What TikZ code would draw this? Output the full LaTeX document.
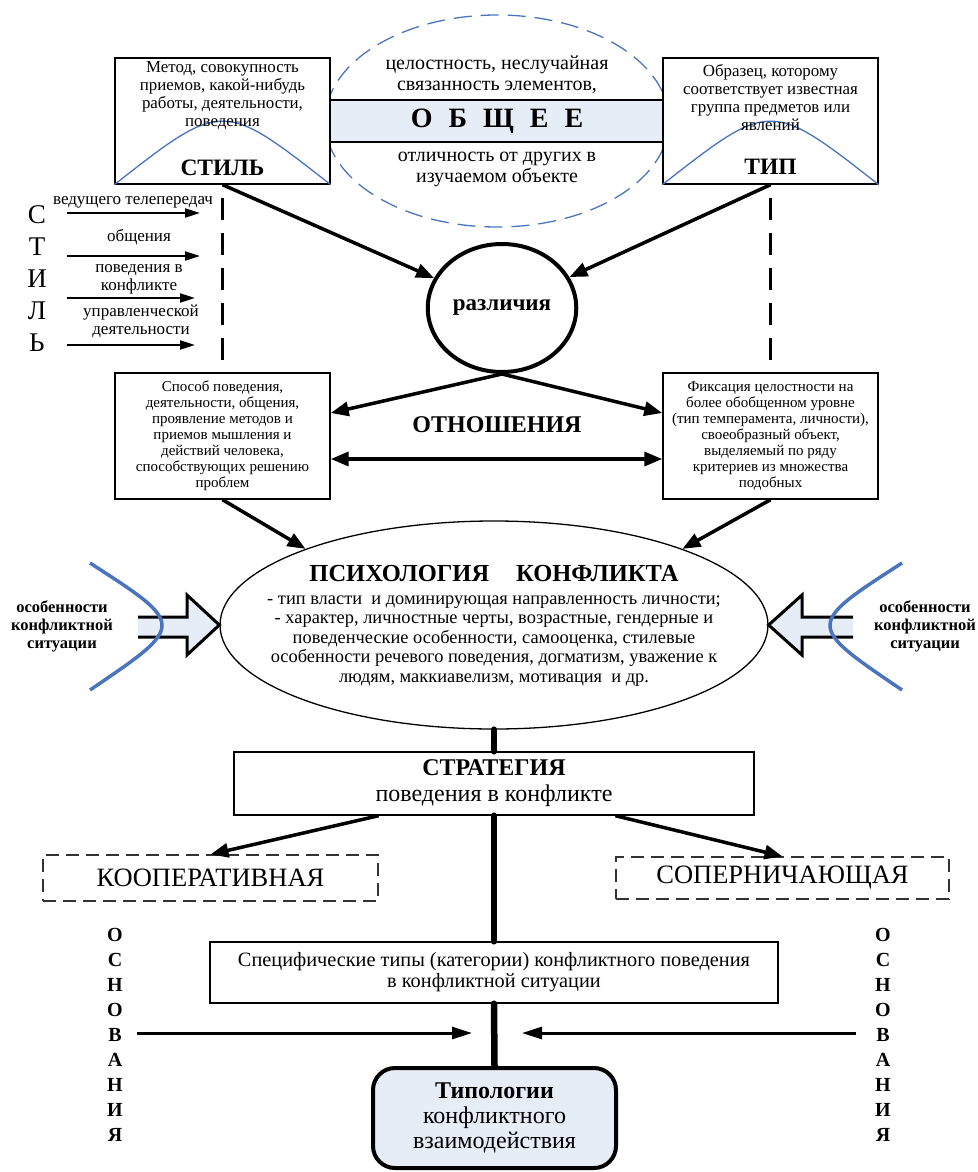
\documentclass[tikz,border=0pt]{standalone}
\usepackage{fontspec}
\setmainfont{Liberation Serif}
\usetikzlibrary{arrows.meta,shapes.geometric}
\definecolor{paleblue}{HTML}{E7EDF7}
\definecolor{lineblue}{HTML}{4A75BE}
\newcommand{\fsz}[2]{\fontsize{#1}{#2}\selectfont}
\tikzset{
  box/.style={draw, line width=1.4pt, fill=white, align=center, inner sep=2pt},
  dashbox/.style={draw=black!80, line width=1.2pt, dash pattern=on 13pt off 7pt, align=center},
  conn/.style={line width=3.5pt, -{Triangle[length=18pt,width=14pt]}},
  baseconn/.style={line width=3pt, -{Triangle[length=20pt,width=12pt]}},
  thinconn/.style={line width=2pt, -{Triangle[length=15pt,width=9pt]}},
  spine/.style={line width=6.5pt, line cap=round},
  vdash/.style={line width=2.5pt, dash pattern=on 22pt off 13pt, dash phase=22pt},
  bluearc/.style={draw=lineblue, line width=1.3pt},
  sidearc/.style={draw=lineblue, line width=3.5pt},
  blockarr/.style={draw, fill=paleblue, line width=3pt, line join=miter},
}

\begin{document}
\begin{tikzpicture}[x=1pt,y=-1pt]
		%%%%% START %%%%%
		\useasboundingbox (0,0) rectangle (977,1172);
		
		% common part between style and type
		\draw[lineblue, line width=1.3pt, dash pattern=on 18pt off 9pt] (497,121) ellipse [x radius=172, y radius=106];
		\node[draw, line width=1.4pt, fill=paleblue, minimum width=333pt, minimum height=42pt, font=\fsz{28}{30}\bfseries] (obshee) at (497,121) {О\hspace{16pt}Б\hspace{16pt}Щ\hspace{16pt}Е\hspace{16pt}Е};
		\node[font=\fsz{20}{21}, align=center] (cel) at (497,75) {целостность, неслучайная\\связанность элементов,};
		\node[font=\fsz{20}{21}, align=center] (otl) at (497,169) {отличность от других в\\изучаемом объекте};
		
		\node[box, minimum width=215pt, minimum height=126pt] (stil) at (222.5,121) {};
		\draw[bluearc] (stil.south west) .. controls (222.5,100) .. (stil.south east);
		\node[font=\fsz{16.9}{18}, align=center] (stiltxt) at (222.5,96) {Метод, совокупность\\приемов, какой-нибудь\\работы, деятельности,\\поведения};
		\node[font=\fsz{23.5}{24}\bfseries] (stillab) at (222.5,168) {СТИЛЬ};
		
		\node[box, minimum width=215pt, minimum height=126pt] (tip) at (770.5,121) {};
		\draw[bluearc] (tip.south west) .. controls (770.5,100) .. (tip.south east);
		\node[font=\fsz{16.9}{18}, align=center] (tiptxt) at (770.5,98) {Образец, которому\\соответствует известная\\группа предметов или\\явлений};
		\node[font=\fsz{23.5}{24}\bfseries] (tiplab) at (770.5,167) {ТИП};
		
		% differences and relations
		\node[ellipse, draw, line width=4pt, minimum width=137pt, minimum height=128pt, font=\fsz{23}{24}\bfseries] (razl) at (502,308) {различия};
		\draw[conn] (stil.south) -- (razl);
		\draw[conn] (tip.south) -- (razl);
		
		\node[box, minimum width=215pt, minimum height=126pt, font=\fsz{15}{16}] (sposob) at (222.5,436) {Способ поведения,\\деятельности, общения,\\проявление методов и\\приемов мышления и\\действий человека,\\способствующих решению\\проблем};
		\node[box, minimum width=215pt, minimum height=126pt, font=\fsz{15}{16}] (fiks) at (770.5,436) {Фиксация целостности на\\более обобщенном уровне\\(тип темперамента, личности),\\своеобразный объект,\\выделяемый по ряду\\критериев из множества\\подобных};
		
		\draw[vdash] (stil.south) -- (sposob.north);
		\draw[vdash] (tip.south) -- (fiks.north);
		
		\draw[conn] (razl.south) -- (sposob.12);
		\draw[conn] (razl.south) -- (fiks.168);
		\node[font=\fsz{24}{26}\bfseries] (otn) at (497,425) {ОТНОШЕНИЯ};
		\draw[conn, {Triangle[length=18pt,width=14pt]}-{Triangle[length=18pt,width=14pt]}] (sposob.348) -- (fiks.192);
		
		% style column on the left
		\node[font=\fsz{27}{32}, align=center] (stilcol) at (37,279) {С\\Т\\И\\Л\\Ь};
		\node[font=\fsz{17}{18}] (lab1) at (133,202) {ведущего телепередач};
		\node[font=\fsz{17}{18}] (lab2) at (139,237) {общения};
		\node[font=\fsz{17}{18}, align=center] (lab3) at (139,279) {поведения в\\конфликте};
		\node[font=\fsz{17}{18}, align=center] (lab4) at (141,321) {управленческой\\деятельности};
		\coordinate (a1) at (67,213); \coordinate (b1) at (200,213);
		\coordinate (a2) at (67,256); \coordinate (b2) at (200,256);
		\coordinate (a3) at (67,298); \coordinate (b3) at (195,298);
		\coordinate (a4) at (67,345); \coordinate (b4) at (195,345);
		\draw[thinconn] (a1) -- (b1);
		\draw[thinconn] (a2) -- (b2);
		\draw[thinconn] (a3) -- (b3);
		\draw[thinconn] (a4) -- (b4);
		
		% psychology of conflict
		\node[ellipse, draw, line width=1.3pt, minimum width=548pt, minimum height=208pt] (psych) at (494,625) {};
		\node[font=\fsz{24.5}{26}\bfseries, inner sep=0pt] (psychtit) at (494,574) {ПСИХОЛОГИЯ\hspace{1.1em}КОНФЛИКТА};
		\node[font=\fsz{18.4}{19.5}, align=center, inner sep=0pt] (psychtxt) at (494,641) {- тип власти\ \ и доминирующая направленность личности;\\- характер, личностные черты, возрастные, гендерные и\\поведенческие особенности, самооценка, стилевые\\особенности речевого поведения, догматизм, уважение к\\людям, маккиавелизм, мотивация\ \ и др.};
		\draw[conn] (sposob.south) -- (psych.158);
		\draw[conn] (fiks.south) -- (psych.22);
		
		\draw[blockarr] (138,617) -- (187,617) -- (187,595) -- (psych.west) -- (187,655) -- (187,637) -- (138,637);
		\draw[sidearc] (90,563) .. controls (186,625) .. (90,690);
		\node[font=\fsz{16.5}{18}\bfseries, align=center] (osobL) at (62,626) {особенности\\конфликтной\\ситуации};
		
		\draw[blockarr] (853,617) -- (802,617) -- (802,595) -- (psych.east) -- (802,655) -- (802,637) -- (853,637);
		\draw[sidearc] (902,563) .. controls (806,625) .. (902,690);
		\node[font=\fsz{16.5}{18}\bfseries, align=center] (osobR) at (925,626) {особенности\\конфликтной\\ситуации};
		
		% strategy
		\node[box, minimum width=520pt, minimum height=63pt, font=\fsz{24}{26}] (strat) at (494,783.5) {\textbf{СТРАТЕГИЯ}\\поведения в конфликте};
		\node[dashbox, minimum width=335pt, minimum height=46pt, font=\fsz{26.5}{28}] (coop) at (210.5,878) {КООПЕРАТИВНАЯ};
		\node[dashbox, minimum width=333pt, minimum height=42pt, font=\fsz{26.5}{28}] (sop) at (782.5,878) {СОПЕРНИЧАЮЩАЯ};
		\draw[conn] (strat.south -| coop.east) -- (coop.north);
		\draw[conn] (strat.south -| sop.west) -- (sop.north);
		
		\node[box, minimum width=568pt, minimum height=61pt, font=\fsz{20.3}{21}] (spec) at (494,972.5) {Специфические типы (категории) конфликтного поведения\\в конфликтной ситуации};
		\node[box, rounded corners=22pt, line width=4pt, fill=paleblue, minimum width=243pt, minimum height=100pt, font=\fsz{24}{25}] (typol) at (494.5,1118) {\textbf{Типологии}\\конфликтного\\взаимодействия};
		
		\draw[spine] (psych.south) -- (strat.north);
		\draw[spine] (strat.south) -- (spec.north);
		\draw[spine] (spec.south) -- (typol.north);
		
		% grounds
		\node[font=\fsz{20}{25}\bfseries, align=center, inner xsep=14pt] (osnL) at (115,1035) {О\\С\\Н\\О\\В\\А\\Н\\И\\Я};
		\node[font=\fsz{20}{25}\bfseries, align=center, inner xsep=19pt] (osnR) at (883,1035) {О\\С\\Н\\О\\В\\А\\Н\\И\\Я};
		\coordinate (inL) at (472,1033);
		\coordinate (inR) at (522,1033);
		\draw[baseconn] (osnL.east |- inL) -- (inL);
		\draw[baseconn] (osnR.west |- inR) -- (inR);
		
		%%%%% END %%%%%
\end{tikzpicture}
\end{document}
